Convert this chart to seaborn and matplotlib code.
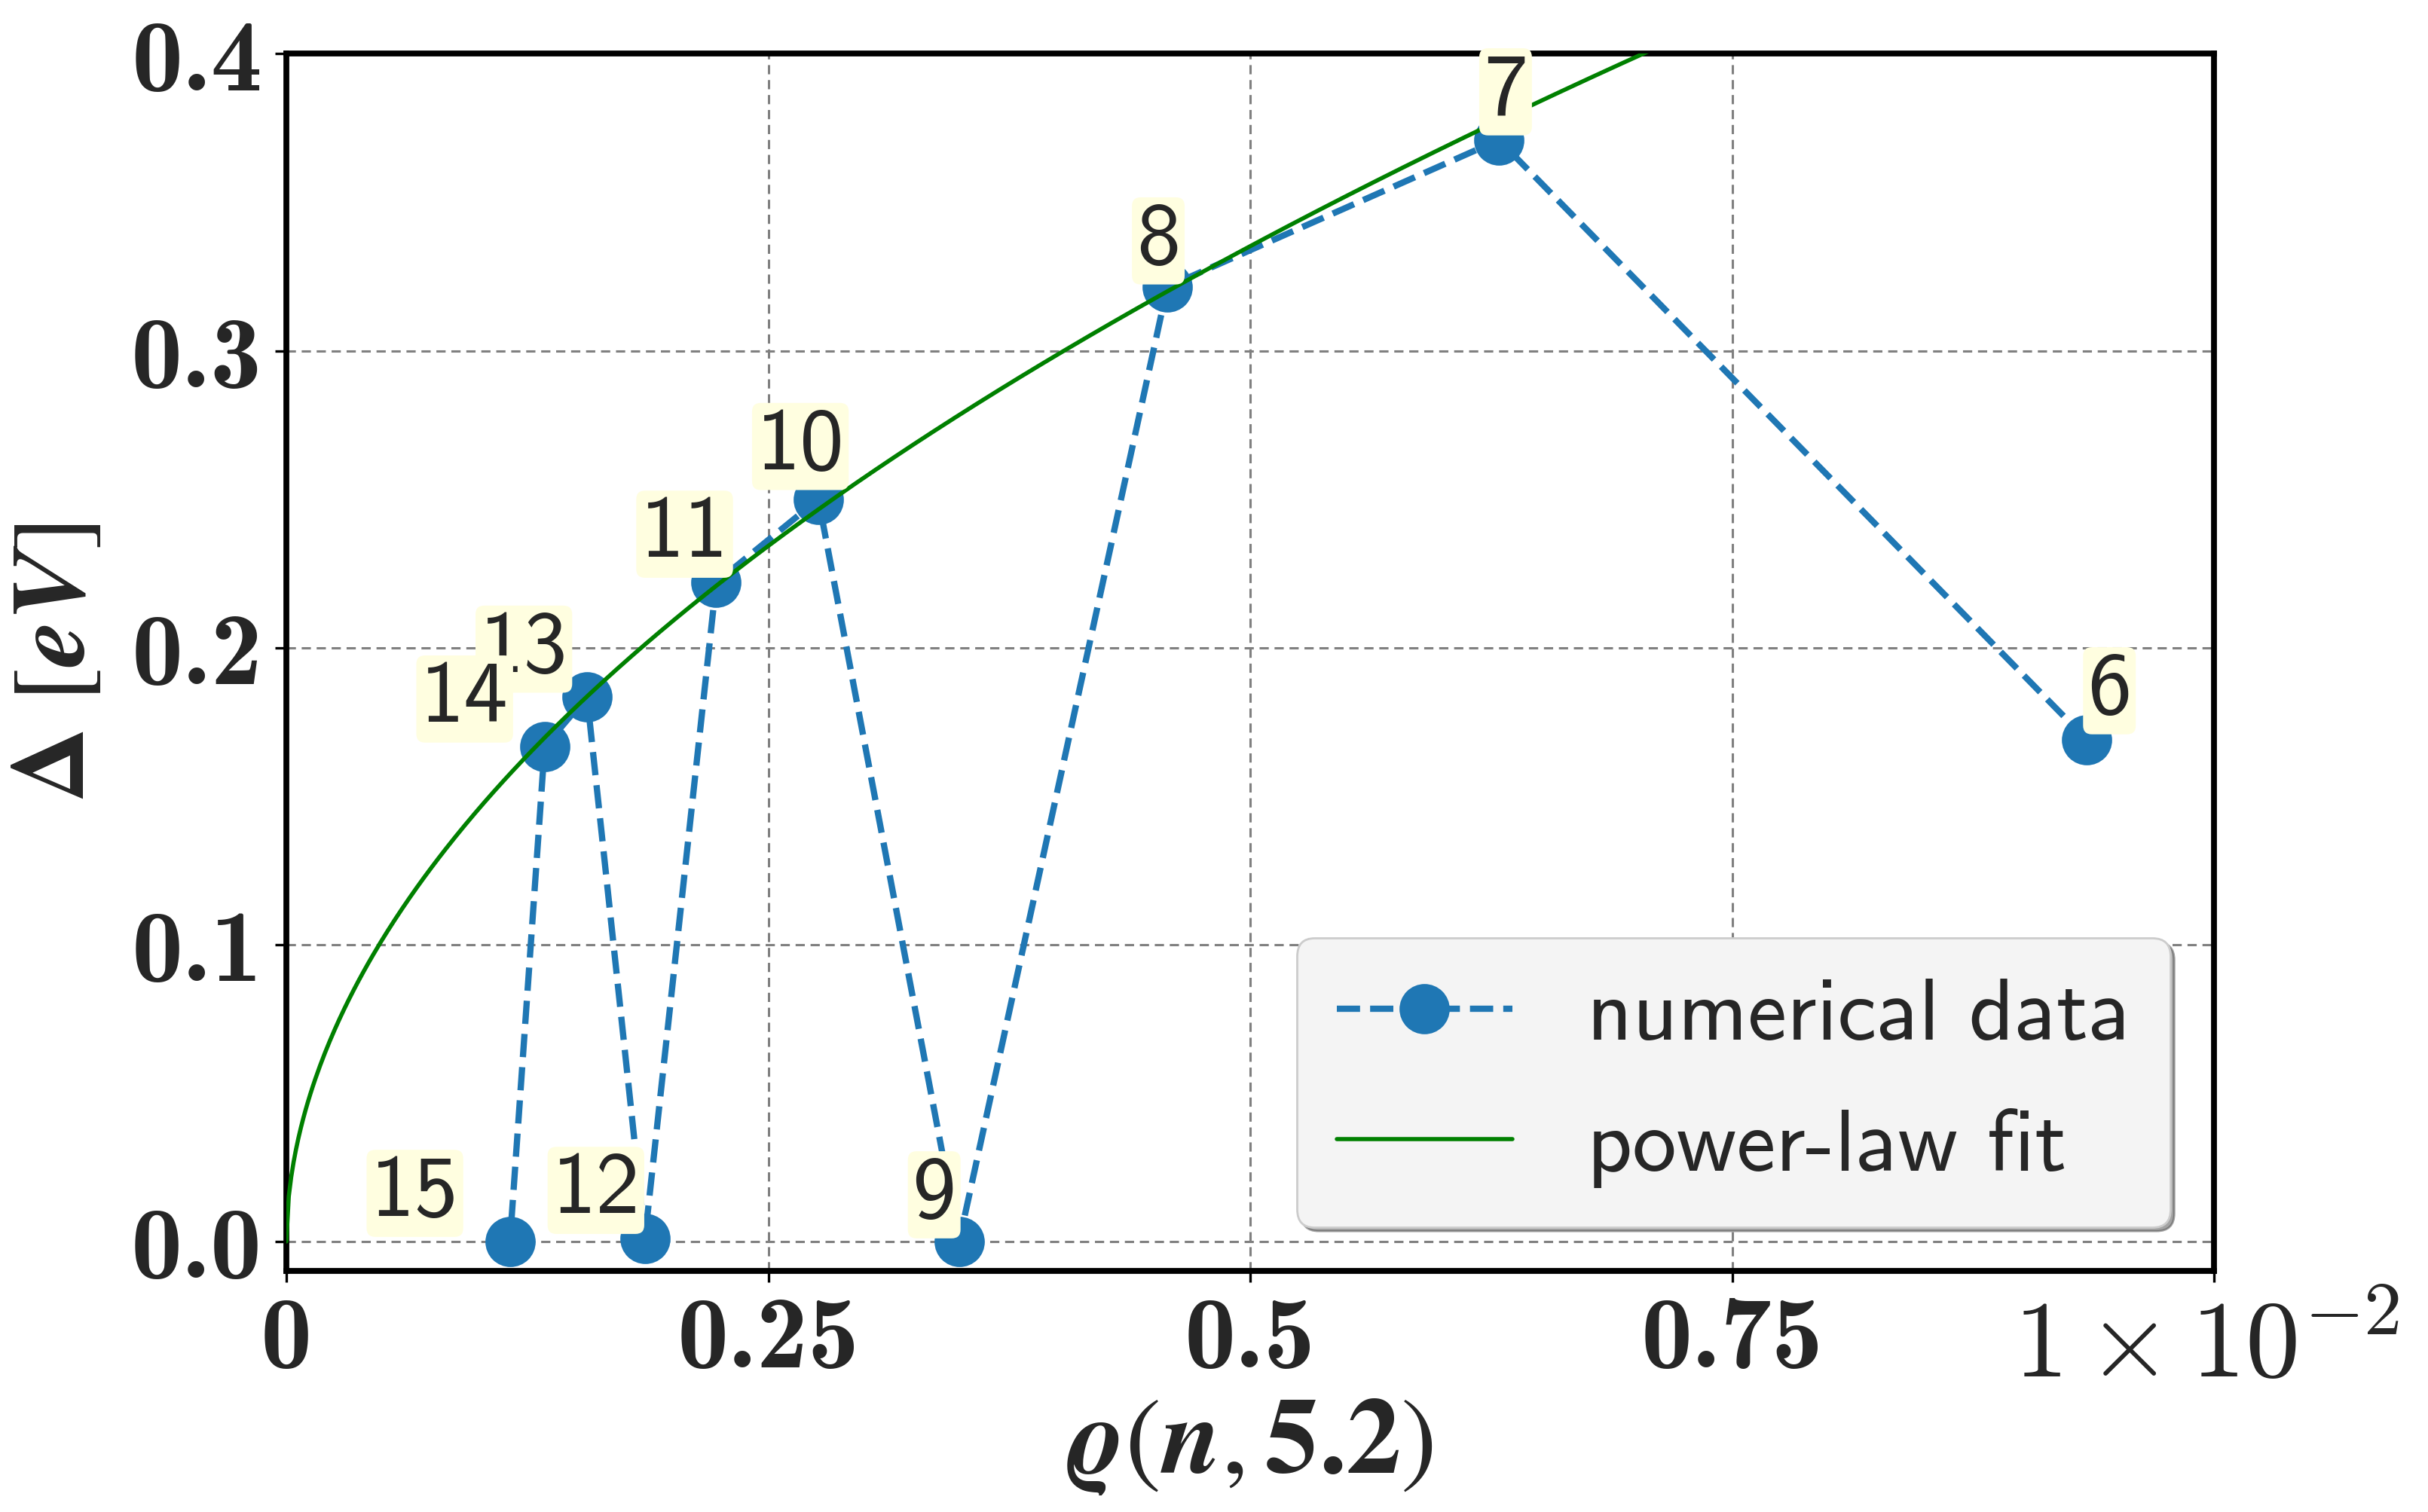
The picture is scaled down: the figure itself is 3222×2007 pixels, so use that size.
import numpy as np
import pandas as pd
import seaborn as sns
import matplotlib.pyplot as plt

# dati (n = 6 ... 15)
n_labels = ['6', '7', '8', '9', '10', '11', '12', '13', '14', '15']
rho = [0.00934, 0.00629, 0.00457, 0.00349, 0.00276, 0.00223, 0.00186, 0.00156, 0.00134, 0.00116]
delta = [0.169, 0.371, 0.3215, 0.0, 0.250, 0.222, 0.001, 0.1835, 0.1667, 0.0]

# fit a legge di potenza: Delta = A * (rho / 1e-2) ** B
FIT_A = 0.4797
FIT_B = 0.517

x_ticks = [0, 0.0025, 0.005, 0.0075, 0.01]
x_tick_labels = ['0', '0.25', '0.5', '0.75', '']
y_ticks = [0.0, 0.1, 0.2, 0.3, 0.4]
y_tick_labels = ['0.0', '0.1', '0.2', '0.3', '0.4']

# spostamento delle etichette (in punti)
label_offsets = [(10.8, 23.4), (3.2, 23), (-4.3, 22), (-11.9, 22.3), (-8.6, 25.2),
                 (-15.1, 23), (-23.4, 23), (-30.2, 22.7), (-38.2, 22.7), (-45.4, 23)]

sns.set_style('white')
plt.rcParams['mathtext.fontset'] = 'cm'

df = pd.DataFrame({'rho': rho, 'delta': delta, 'n': n_labels})
fit_x = np.linspace(0, 0.0075, 600)
fit_df = pd.DataFrame({'rho': fit_x, 'delta': FIT_A * (fit_x / 1e-2) ** FIT_B})

fig = plt.figure(figsize=(16.115, 10.04), dpi=200)
ax = fig.add_axes([0.1179, 0.1594, 0.7937, 0.8045])

sns.lineplot(data=df, x='rho', y='delta', sort=False, estimator=None, ax=ax,
             color='#1f77b4', linestyle='--', lw=3, marker='o', markersize=24,
             markeredgewidth=0, label='numerical data', zorder=3)
sns.lineplot(data=fit_df, x='rho', y='delta', sort=False, estimator=None, ax=ax,
             color='green', lw=2, label='power-law fit', zorder=3)

for (xi, yi, lab), (dx, dy) in zip(zip(rho, delta, n_labels), label_offsets):
    ax.annotate(lab, (xi, yi), xytext=(dx, dy), textcoords='offset points',
                ha='center', va='center', family='cmss10', fontsize=42, zorder=4,
                bbox=dict(boxstyle='round,pad=0.05,rounding_size=0.1', fc='#fffee0', ec='none'))

ax.set_xlim(0, 0.01)
ax.set_ylim(-0.0099, 0.4)
ax.set_xticks(x_ticks)
ax.set_xticklabels(x_tick_labels, family='cmb10', fontsize=49)
ax.set_yticks(y_ticks)
ax.set_yticklabels(y_tick_labels, family='cmb10', fontsize=49)
ax.tick_params(axis='both', direction='out', length=5.5, width=1.2, color='black',
               bottom=True, left=True, pad=6)

ax.grid(True, ls='--', color='gray', lw=1.1, dashes=(4, 2.5))
ax.set_axisbelow(True)
for sp in ax.spines.values():
    sp.set_color('black')
    sp.set_linewidth(2.8)

ax.set_xlabel(r'$\mathbfit{\varrho}(\mathbfit{n}, \mathbf{5.2})$', fontsize=52, labelpad=2,
              math_fontfamily='stix')
ax.set_ylabel(r'$\mathbf{\Delta}\ [\mathbfit{eV}]$', fontsize=50, labelpad=12,
              math_fontfamily='stix')

ax.text(0.996, -0.0867, r'$1\times10^{-2}$', transform=ax.transAxes, ha='center',
        va='baseline', fontsize=52)

leg = ax.legend(loc='lower right', prop={'family': 'cmss10', 'size': 42}, fancybox=True,
                shadow=True, frameon=True, handlelength=2.0, borderpad=0.45,
                labelspacing=0.58, handletextpad=0.85)
leg.get_frame().set_facecolor('#f4f4f4')
leg.get_frame().set_edgecolor('#cccccc')
leg.get_frame().set_alpha(1)

fig.savefig('out.png', dpi=200)
